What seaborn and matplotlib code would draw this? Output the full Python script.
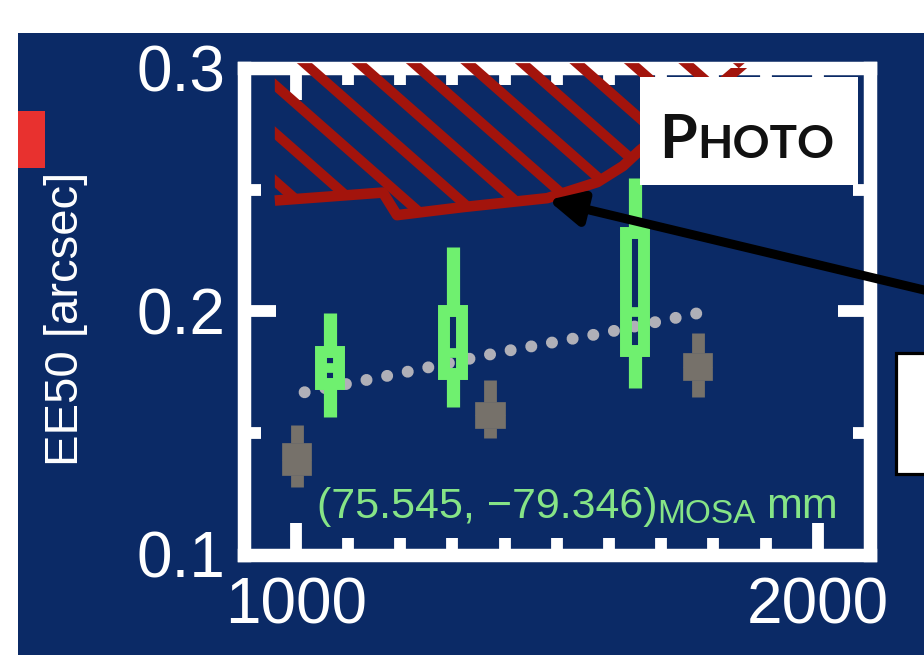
import numpy as np
import matplotlib
matplotlib.use("Agg")
import matplotlib.pyplot as plt
import seaborn as sns
from matplotlib.patches import Rectangle, Polygon
from matplotlib.collections import LineCollection

# ---------------- data ----------------
green_x = [1065, 1301, 1650]
green_whislo = [0.1564, 0.1605, 0.1683]
green_q1 = [0.1700, 0.1741, 0.1835]
green_med = [0.1765, 0.1827, 0.1996]
green_q3 = [0.1831, 0.2000, 0.2321]
green_whishi = [0.1992, 0.2263, 0.2547]

gray_x = [1002, 1372, 1770]
gray_whislo = [0.1276, 0.1477, 0.1646]
gray_q1 = [0.1325, 0.1519, 0.1716]
gray_med = [0.1390, 0.1572, 0.1770]
gray_q3 = [0.1457, 0.1626, 0.1827]
gray_whishi = [0.1531, 0.1716, 0.1909]

trend_x = [1017, 1200, 1400, 1600, 1770]
trend_y = [0.1667, 0.1745, 0.1835, 0.1915, 0.1992]

req_x = [960, 1167, 1194, 1320, 1482, 1578, 1627, 1660, 1740, 1860]
req_y = [0.2455, 0.2488, 0.2395, 0.2428, 0.2465, 0.2531, 0.2597, 0.2663, 0.2800, 0.3020]

arrow_tip = (1483, 0.2457)

xticks_major = [1000, 2000]
xtick_labels = ["1000", "2000"]
xticks_minor = list(range(1100, 2000, 100))
yticks_major = [0.1, 0.2, 0.3]
ytick_labels = ["0.1", "0.2", "0.3"]
yticks_minor = [0.15, 0.25]

# ---------------- style ----------------
NAVY = "#0b2a66"
GREEN = "#6ff06f"
TXTGREEN = "#86e486"
GRAY = "#76716a"
DOT = "#b0b0b8"
RED = "#a3140c"

sns.set_theme(style="white")
plt.rcParams["font.family"] = ["Liberation Sans", "DejaVu Sans"]
plt.rcParams["font.weight"] = "normal"

W, H = 924, 655
fig = plt.figure(figsize=(W / 100, H / 100), dpi=100, facecolor="white")

# slide background
fig.patches.append(Rectangle((18 / W, 0), 1, 1 - 33 / H, transform=fig.transFigure,
                             facecolor=NAVY, edgecolor="none", zorder=-5))
fig.patches.append(Rectangle((18 / W, 1 - 168 / H), 27 / W, 57 / H, transform=fig.transFigure,
                             facecolor="#e8312f", edgecolor="none", zorder=-4))
fig.patches.append(Rectangle((896 / W, 1 - 474 / H), 0.06, 121 / H, transform=fig.transFigure,
                             facecolor="white", edgecolor="black", linewidth=2.3, zorder=-4))

ax_l, ax_r, ax_t, ax_b = 243.5, 870, 68, 554.5
ax = fig.add_axes([ax_l / W, 1 - ax_b / H, (ax_r - ax_l) / W, (ax_b - ax_t) / H])
ax.set_facecolor(NAVY)
ax.set_xlim(900, 2100)
ax.set_ylim(0.1, 0.3)

# dotted trend line
sns.lineplot(x=trend_x, y=trend_y, ax=ax, color=DOT, linewidth=8.6,
             linestyle=(0, (0.01, 1.75)), dash_capstyle="round",
             estimator=None, zorder=2)

# green box markers
gstats = [dict(med=m, q1=a, q3=b, whislo=lo, whishi=hi, fliers=[])
          for m, a, b, lo, hi in zip(green_med, green_q1, green_q3, green_whislo, green_whishi)]
ax.bxp(gstats, positions=green_x, widths=34.5, patch_artist=True, showcaps=False,
       showfliers=False, manage_ticks=False, zorder=3,
       boxprops=dict(facecolor="none", edgecolor=GREEN, linewidth=8.6, joinstyle="miter"),
       whiskerprops=dict(color=GREEN, linewidth=9.5, solid_capstyle="butt"),
       medianprops=dict(color=GREEN, linewidth=7.0, solid_capstyle="butt"))

# gray markers
ystats = [dict(med=m, q1=a, q3=b, whislo=lo, whishi=hi, fliers=[])
          for m, a, b, lo, hi in zip(gray_med, gray_q1, gray_q3, gray_whislo, gray_whishi)]
ax.bxp(ystats, positions=gray_x, widths=56, patch_artist=True, showcaps=False,
       showfliers=False, manage_ticks=False, zorder=3,
       boxprops=dict(facecolor=GRAY, edgecolor=GRAY, linewidth=0.5),
       whiskerprops=dict(color=GRAY, linewidth=9.2, solid_capstyle="butt"),
       medianprops=dict(color=GRAY, linewidth=0.5))

# hatched requirement region
verts = list(zip(req_x, req_y)) + [(req_x[0], 0.302)]
poly = Polygon(verts, closed=True, facecolor="none", edgecolor="none",
               transform=ax.transData, zorder=3.1)
ax.add_patch(poly)
poly.set_clip_on(False)
ax_wpx, ax_hpx = ax_r - ax_l, ax_b - ax_t
s = -0.88 * ax_wpx / ax_hpx
segs = []
for k in range(-14, 16):
    xt = 0.1062 + 0.087 * k
    segs.append([(xt + (1.1 - 1) / s, 1.1), (xt + (-0.2 - 1) / s, -0.2)])
coll = LineCollection(segs, colors=RED, linewidths=7.2, transform=ax.transAxes, zorder=3.2)
ax.add_collection(coll, autolim=False)
coll.set_clip_box(None)
coll.set_clip_path(poly)

sns.lineplot(x=req_x, y=req_y, ax=ax, color=RED, linewidth=7.6, estimator=None,
             sort=False, zorder=3.3, solid_capstyle="butt")

# PHOTO box
ax.add_patch(Rectangle((1660, 0.2519), 417, 0.2965 - 0.2519, facecolor="white",
                       edgecolor="none", zorder=4, clip_on=False))
pfam = ["Lato", "Open Sans", "DejaVu Sans"]
tp = ax.text(1696, 0.263, "P", fontsize=44, color="#111111", family=pfam,
             fontweight="bold", va="baseline", ha="left", zorder=5)
ax.annotate("HOTO", xy=(1.0, 0.263), xycoords=(tp, "data"), fontsize=33,
            color="#111111", family=pfam, fontweight="bold", va="baseline",
            ha="left", zorder=5)

# green annotation text
t1 = ax.text(1041, 0.1152, "(75.545, \u221279.346)", fontsize=31, color=TXTGREEN,
             va="baseline", ha="left", zorder=3)
t2 = ax.annotate("MOSA", xy=(1.0, 0.1129), xycoords=(t1, "data"), fontsize=24,
                 color=TXTGREEN, va="baseline", ha="left", zorder=3)
ax.annotate("mm", xy=(1.0, 0.1152), xycoords=(t2, "data"), xytext=(7, 0),
            textcoords="offset points", fontsize=31, color=TXTGREEN,
            va="baseline", ha="left", zorder=3)

# arrow
ax.annotate("", xy=arrow_tip, xycoords="data",
            xytext=(970 / W, 1 - 301 / H), textcoords="figure fraction",
            annotation_clip=False,
            arrowprops=dict(arrowstyle="-|>,head_length=20,head_width=10",
                            mutation_scale=1, color="black", lw=6.5,
                            shrinkA=0, shrinkB=0),
            zorder=6)

# axes styling
ax.set_xticks(xticks_major)
ax.set_xticklabels(xtick_labels)
ax.set_xticks(xticks_minor, minor=True)
ax.set_yticks(yticks_major)
ax.set_yticklabels(ytick_labels)
ax.set_yticks(yticks_minor, minor=True)
ax.tick_params(which="both", direction="in", top=True, right=True, bottom=True, left=True,
               color="white", width=8.5, labelcolor="white", labelsize=46)
ax.tick_params(which="major", length=23)
ax.tick_params(which="minor", length=12)
ax.tick_params(axis="x", pad=16)
ax.tick_params(axis="y", pad=13)
for sp in ax.spines.values():
    sp.set_color("white")
    sp.set_linewidth(9.7)
    sp.set_visible(True)
ax.grid(False)

# y label
fig.text(66 / W, 1 - 319 / H, "EE50 [arcsec]", rotation=90, ha="center", va="center",
         fontsize=34, color="white")

fig.savefig("out.png", dpi=100, facecolor="white")
